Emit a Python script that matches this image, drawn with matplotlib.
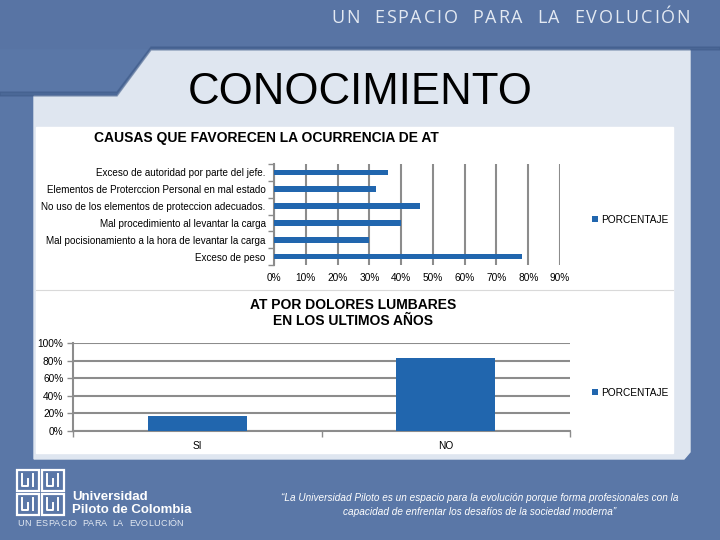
import numpy as np
import matplotlib
matplotlib.use("Agg")
import matplotlib.pyplot as plt
from matplotlib.patches import Polygon, Rectangle

plt.rcParams["font.family"] = ["Liberation Sans", "DejaVu Sans"]

# --- data ---
causas = [
    "Exceso de peso",
    "Mal pocisionamiento a la hora de levantar la carga",
    "Mal procedimiento al levantar la carga",
    "No uso de los elementos de proteccion adecuados.",
    "Elementos de Proterccion Personal en mal estado",
    "Exceso de autoridad por parte del jefe.",
]
causas_pct = [0.78, 0.30, 0.40, 0.46, 0.32, 0.36]
causas_ticks = [0, 0.1, 0.2, 0.3, 0.4, 0.5, 0.6, 0.7, 0.8, 0.9]

lumbar_cats = ["SI", "NO"]
lumbar_pct = [0.17, 0.83]
lumbar_ticks = [0, 0.2, 0.4, 0.6, 0.8, 1.0]

BAR = "#2166ae"
GRID = "#8c8c8c"
BLUE_BG = "#5a77a7"
W, H = 720, 540


def fx(x):
    return x / W


def fy(y):
    return 1 - y / H


fig = plt.figure(figsize=(7.2, 5.4), dpi=100)
fig.patch.set_facecolor(BLUE_BG)
renderer = fig.canvas.get_renderer()


def spaced_text(ax, x0, x1, y, s, **kw):
    # letter-spaced text stretched between x0 and x1 (pixel coords)
    texts = [ax.text(0, y, ch, ha="left", va="center", **kw) for ch in s]
    widths = []
    for t, ch in zip(texts, s):
        if ch == " ":
            t.set_text("n")
        widths.append(t.get_window_extent(renderer).width)
        if ch == " ":
            t.set_text(" ")
    gap = (x1 - x0 - sum(widths)) / (len(s) - 1)
    x = x0
    for t, w in zip(texts, widths):
        t.set_x(x)
        x += w + gap


# background / slide decoration in pixel coords
bg = fig.add_axes([0, 0, 1, 1])
bg.set_xlim(0, W)
bg.set_ylim(H, 0)
bg.axis("off")
bg.add_patch(Rectangle((0, 0), W, H, color=BLUE_BG))
bg.add_patch(Rectangle((0, 0), W, 48, color="#5874a4"))
panel = Polygon([(34, 96), (117, 96), (151, 50), (690, 50), (690, 452),
                 (684, 459), (34, 459)], closed=True, color="#dfe6f0")
bg.add_patch(panel)
bg.add_patch(Polygon([(0, 92), (117, 92), (151, 47), (720, 47), (720, 50),
                      (151, 50), (117, 96), (0, 96)], closed=True,
                     color="#3e5a88", alpha=0.5))
bg.add_patch(Rectangle((36, 127), 637, 326, color="white"))
bg.plot([36, 673], [289.5, 289.5], color="#d9d9d9", lw=0.8)

spaced_text(bg, 331, 690, 18, "UN ESPACIO PARA LA EVOLUCIÓN", color="#e3e9f2",
            fontsize=13, family=["Open Sans", "DejaVu Sans"])

bg.text(360, 93, "CONOCIMIENTO", fontsize=31.5, ha="center", va="center",
        color="black")

# footer
for (lx, ly) in [(17, 470), (42, 470), (17, 494), (42, 494)]:
    bg.add_patch(Rectangle((lx, ly), 22, 21, fill=False, ec="white", lw=1.6))
    bg.plot([lx + 5, lx + 5, lx + 11, lx + 11], [ly + 4, ly + 16, ly + 16, ly + 9],
            color="white", lw=1.4)
    bg.plot([lx + 16, lx + 16], [ly + 4, ly + 16], color="white", lw=1.4)
bg.text(72, 497, "Universidad", color="white", fontsize=9.5, weight="bold",
        va="center")
bg.text(72, 510, "Piloto de Colombia", color="white", fontsize=9.5,
        weight="bold", va="center")
spaced_text(bg, 17, 183, 523, "UN ESPACIO PARA LA EVOLUCIÓN", color="#e3e9f2",
            fontsize=6.5)
quote_font = ["Liberation Sans Narrow", "Liberation Sans", "DejaVu Sans"]
bg.text(480, 498, "\u201cLa Universidad Piloto es un espacio para la evolución porque forma profesionales con la",
        color="white", fontsize=7.2, style="italic", ha="center", va="center",
        family=quote_font)
bg.text(480, 512, "capacidad de enfrentar los desafíos de la sociedad moderna\u201d",
        color="white", fontsize=7.2, style="italic", ha="center", va="center",
        family=quote_font)

# --- chart 1: causas ---
ax1 = fig.add_axes([fx(274), fy(265), fx(560 - 274), (265 - 164) / H])
y = np.arange(len(causas))
ax1.barh(y, causas_pct, height=0.34, color=BAR, zorder=3)
ax1.set_xlim(0, 0.9)
ax1.set_ylim(-0.5, len(causas) - 0.5)
ax1.set_xticks(causas_ticks)
ax1.set_xticklabels([f"{int(round(t * 100))}%" for t in causas_ticks], fontsize=7.3)
ax1.set_yticks(y)
ax1.set_yticklabels(causas, fontsize=7.1)
ax1.set_yticks(np.arange(-0.5, len(causas)), minor=True)
ax1.tick_params(axis="y", which="major", length=0, pad=6)
ax1.tick_params(axis="y", which="minor", length=4, color=GRID, width=1)
ax1.tick_params(axis="x", length=0, pad=6)
ax1.grid(axis="x", color=GRID, lw=1.5, zorder=0)
for s in ["top", "right", "bottom"]:
    ax1.spines[s].set_visible(False)
ax1.spines["left"].set_color(GRID)
ax1.spines["left"].set_linewidth(1.5)
ax1.set_facecolor("white")
ax1.legend(["PORCENTAJE"], loc="center left", bbox_to_anchor=(fx(583), fy(220)),
           bbox_transform=fig.transFigure, frameon=False, fontsize=7.3,
           handlelength=0.55, handleheight=0.55, handletextpad=0.3)
fig.text(fx(266), fy(138), "CAUSAS QUE FAVORECEN LA OCURRENCIA DE AT",
         fontsize=10, weight="bold", ha="center", va="center")

# --- chart 2: dolores lumbares ---
ax2 = fig.add_axes([fx(73), fy(431), fx(570 - 73), (431 - 343) / H])
x = np.arange(len(lumbar_cats))
ax2.bar(x, lumbar_pct, width=0.4, color=BAR, zorder=3)
ax2.set_xlim(-0.5, len(lumbar_cats) - 0.5)
ax2.set_ylim(0, 1.0)
ax2.set_yticks(lumbar_ticks)
ax2.set_yticklabels([f"{int(round(t * 100))}%" for t in lumbar_ticks], fontsize=7.3)
ax2.set_xticks(x)
ax2.set_xticklabels(lumbar_cats, fontsize=7.3)
ax2.set_xticks(np.arange(-0.5, len(lumbar_cats)), minor=True)
ax2.tick_params(axis="x", which="major", length=0, pad=7)
ax2.tick_params(axis="x", which="minor", length=4, color=GRID, width=1)
ax2.tick_params(axis="y", length=4, color=GRID, width=1, pad=3)
ax2.grid(axis="y", color=GRID, lw=1.5, zorder=0)
for s in ["top", "right"]:
    ax2.spines[s].set_visible(False)
for s in ["left", "bottom"]:
    ax2.spines[s].set_color(GRID)
    ax2.spines[s].set_linewidth(1.5)
ax2.set_facecolor("white")
ax2.legend(["PORCENTAJE"], loc="center left", bbox_to_anchor=(fx(583), fy(393)),
           bbox_transform=fig.transFigure, frameon=False, fontsize=7.3,
           handlelength=0.55, handleheight=0.55, handletextpad=0.3)
fig.text(fx(353), fy(313), "AT POR DOLORES LUMBARES\nEN LOS ULTIMOS AÑOS",
         fontsize=10, weight="bold", ha="center", va="center", linespacing=1.15)

fig.savefig("out.png", dpi=100, facecolor=fig.get_facecolor())
